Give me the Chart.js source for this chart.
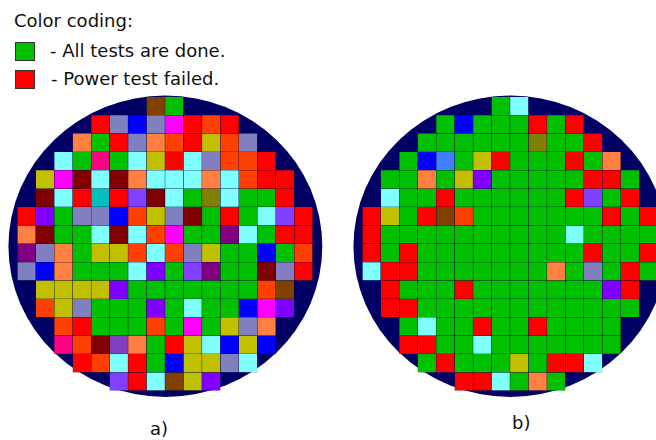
<!DOCTYPE html>
<html>
<head>
<meta charset="utf-8">
<script src="https://cdn.jsdelivr.net/npm/chart.js@4"></script>
<style>
  body { margin: 0; width: 656px; height: 440px; overflow: hidden; position: relative; background: #fff;
         font-family: "DejaVu Sans", sans-serif; color: #111; }
  .txt { position: absolute; font-size: 18px; line-height: 18px; white-space: nowrap; }
  .sw { position: absolute; width: 18px; height: 17px; border: 1px solid #333; }
  canvas { position: absolute; top: 80px; }
</style>
</head>
<body>
<div class="txt" style="left:14px; top:11.5px;">Color coding:</div>
<div class="sw" style="left:15px; top:42px; background:#00c000;"></div>
<div class="txt" style="left:50px; top:41.5px;">- All tests are done.</div>
<div class="sw" style="left:15px; top:70px; background:#ff0000;"></div>
<div class="txt" style="left:51px; top:70px;">- Power test failed.</div>
<div class="txt" style="left:150px; top:420px;">a)</div>
<div class="txt" style="left:512px; top:414px;">b)</div>

<canvas id="waferA" width="330" height="330" style="left:0px;"></canvas>
<canvas id="waferB" width="330" height="330" style="left:345px;"></canvas>

<script>
// die columns across the wafer
const columns = ['1','2','3','4','5','6','7','8','9','10','11','12','13','14','15','16'];

// one string per die row, one letter per die ('.' = no die)
const waferA = [
  '.......NG.......',
  '....RLBLMRHR....',
  '...OGRLOHRYHL...',
  '..CGPGCYRCLHHR..',
  '.YMKCKOCCCOCHRR.',
  '.KCRTRWKCGDCGGR.',
  'RVGLLBHYLKGRGCWR',
  'OKGGCKCHMGGUCGRR',
  'ULOGYYHCHLYGGBGH',
  'LBOGGGCVGWUGGKLR',
  '.YYYYVGGGGGGGHN.',
  '.HYLGGGVGCGGBMV.',
  '..HRGGGHGMGYLO..',
  '..PHKQOGRYCBYB..',
  '...RHCRGBYYLC...',
  '.....WRCNYV.....'
];

const waferB = [
  '.......GC.......',
  '....GBGGGRGR....',
  '...GGGGGGDGGR...',
  '..GBSGYRGGGRGO..',
  '.GGOGYVGGGGGRRG.',
  '.CGGRGGGGGGRWGR.',
  'RYGRNHGGGGGGGRGR',
  'RGGGGGGGGGGCGGGG',
  'RGRGGGGGGGGGRGGR',
  'CRRGGGGGGGOGLGRG',
  '.RGGGRGGGGGGGVR.',
  '.RRGGGGGGGGGGGG.',
  '..GCGGRGGRGGGG..',
  '..RRGGCGGGGGGG..',
  '...GRGGGYGRRC...',
  '.....RRCGOG.....'
];

const codeColors = {
  G: '#00c000', R: '#ff0000', L: '#8080c0', B: '#0000ff', M: '#ff00ff',
  O: '#ff8040', H: '#ff4000', P: '#ff0080', C: '#80ffff', Y: '#c0c000',
  K: '#800000', T: '#00c0c0', V: '#8000ff', W: '#8040ff', N: '#804000',
  D: '#808000', U: '#800080', S: '#4080ff', Q: '#8040c0'
};

// wafer disc behind the dies
const waferDisc = {
  id: 'waferDisc',
  beforeDatasetsDraw(chart) {
    const { ctx, scales: { x, y } } = chart;
    const cw = x.getPixelForValue(1) - x.getPixelForValue(0);
    const left = x.getPixelForValue(0) - cw / 2;
    const cx = left + 8.02 * cw;
    const cy = y.getPixelForValue(8.14);
    const rx = 8.5 * cw;
    const ry = Math.abs(y.getPixelForValue(8.2) - y.getPixelForValue(0));
    ctx.save();
    ctx.fillStyle = '#000064';
    ctx.beginPath();
    ctx.ellipse(cx, cy, rx, ry, 0, 0, Math.PI * 2);
    ctx.fill();
    ctx.restore();
  }
};

function buildDatasets(rows) {
  return rows.map((row, r) => {
    const cells = row.split('');
    return {
      data: cells.map(ch => ch === '.' ? null : [r, r + 1]),
      backgroundColor: cells.map(ch => codeColors[ch] || 'rgba(0,0,0,0)'),
      borderColor: 'rgba(0,0,0,0.3)',
      borderWidth: 0.5,
      borderSkipped: false,
      categoryPercentage: 1,
      barPercentage: 1,
      grouped: false
    };
  });
}

function drawWafer(id, rows) {
  new Chart(document.getElementById(id), {
    type: 'bar',
    data: { labels: columns, datasets: buildDatasets(rows) },
    options: {
      responsive: false,
      animation: false,
      layout: { padding: { left: 17.3, right: 17.3, top: 16.7, bottom: 19.3 } },
      plugins: { legend: { display: false }, tooltip: { enabled: false } },
      scales: {
        x: { display: false },
        y: { display: false, min: 0, max: 16, reverse: true }
      }
    },
    plugins: [waferDisc]
  });
}

drawWafer('waferA', waferA);
drawWafer('waferB', waferB);
</script>
</body>
</html>
